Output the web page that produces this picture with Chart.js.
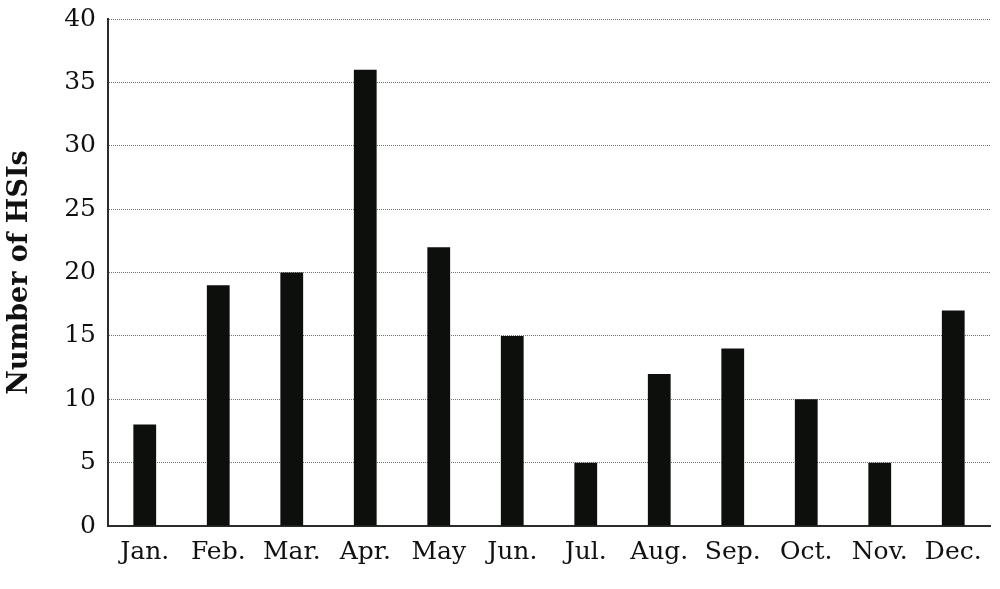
<!DOCTYPE html>
<html>
<head>
<meta charset="utf-8">
<script src="https://cdn.jsdelivr.net/npm/chart.js@4"></script>
<style>
  html, body { margin: 0; padding: 0; background: #fff; }
  #wrap { width: 1000px; height: 589px; }
</style>
</head>
<body>
<div id="wrap"><canvas id="hsiChart"></canvas></div>
<script>
// Chart data
const months = ['Jan.', 'Feb.', 'Mar.', 'Apr.', 'May', 'Jun.', 'Jul.', 'Aug.', 'Sep.', 'Oct.', 'Nov.', 'Dec.'];
const hsiCounts = [8, 19, 20, 36, 22, 15, 5, 12, 14, 10, 5, 17];
const yTicks = [0, 5, 10, 15, 20, 25, 30, 35, 40];

const fontFamily = '"DejaVu Serif", "Liberation Serif", serif';

const ctx = document.getElementById('hsiChart').getContext('2d');
new Chart(ctx, {
  type: 'bar',
  data: {
    labels: months,
    datasets: [
      {
        label: 'Number of HSIs',
        data: hsiCounts,
        backgroundColor: '#0d0f0d',
        borderWidth: 0,
        barPercentage: 0.31,
        categoryPercentage: 1.0,
      },
    ],
  },
  options: {
    responsive: true,
    maintainAspectRatio: false,
    animation: false,
    layout: {
      padding: { top: 19, right: 10, bottom: 0, left: 0 },
    },
    plugins: {
      legend: { display: false },
      tooltip: { enabled: false },
    },
    scales: {
      x: {
        grid: { display: false, drawTicks: false },
        border: { color: '#2a2d2a', width: 2 },
        ticks: {
          color: '#111',
          padding: 11,
          font: { family: fontFamily, size: 25 },
        },
        afterFit: (axis) => { axis.height = 63; },
      },
      y: {
        min: 0,
        max: 40,
        afterBuildTicks: (axis) => {
          axis.ticks = yTicks.map((v) => ({ value: v }));
        },
        grid: {
          color: (c) => (c.tick && c.tick.value === 0 ? 'rgba(0,0,0,0)' : '#707370'),
          lineWidth: 1,
          drawTicks: false,
        },
        // dotted grid lines like the reference
        border: { color: '#2a2d2a', width: 2, dash: [1, 1] },
        ticks: {
          color: '#111',
          padding: 12,
          font: { family: fontFamily, size: 25 },
        },
        title: {
          display: true,
          text: 'Number of HSIs',
          color: '#111',
          padding: { top: 4, bottom: 8 },
          font: { family: fontFamily, size: 27, weight: 'bold' },
        },
        afterFit: (axis) => {
          axis.width = 108;
          axis.paddingTop = 0;
          axis.paddingBottom = 0;
        },
      },
    },
  },
});
</script>
</body>
</html>
